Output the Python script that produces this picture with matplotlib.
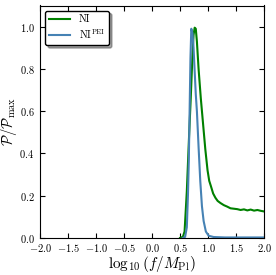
import numpy as np
import matplotlib
matplotlib.use("Agg")
import matplotlib.pyplot as plt

plt.rcParams['font.family'] = 'serif'
plt.rcParams['font.serif'] = ['cmr10', 'DejaVu Serif']
plt.rcParams['mathtext.fontset'] = 'cm'
plt.rcParams['axes.formatter.use_mathtext'] = True

# curves: x = log10(f/M_Pl), y = P/P_max
ni_x = [0.50, 0.55, 0.58, 0.62, 0.66, 0.69, 0.72, 0.74, 0.76, 0.78, 0.80, 0.83,
        0.87, 0.91, 0.95, 0.99, 1.02, 1.05, 1.09, 1.13, 1.17, 1.22, 1.28, 1.34, 1.40,
        1.46, 1.52, 1.58, 1.64, 1.70, 1.76, 1.82, 1.88, 1.94, 2.0]
ni_y = [0.0, 0.005, 0.03, 0.22, 0.48, 0.66, 0.86, 0.96, 0.995, 0.99, 0.93, 0.80,
        0.66, 0.54, 0.42, 0.32, 0.27, 0.245, 0.21, 0.19, 0.175, 0.165, 0.155, 0.148, 0.14,
        0.138, 0.136, 0.132, 0.135, 0.13, 0.134, 0.129, 0.132, 0.128, 0.125]

pei_x = [0.55, 0.59, 0.62, 0.64, 0.655, 0.67, 0.685, 0.70, 0.72, 0.74, 0.76,
         0.78, 0.80, 0.83, 0.86, 0.89, 0.92, 0.96, 1.01, 1.10, 1.30, 2.0]
pei_y = [0.0, 0.005, 0.05, 0.20, 0.36, 0.60, 0.85, 0.99, 0.97, 0.90, 0.79,
         0.68, 0.60, 0.43, 0.27, 0.15, 0.08, 0.03, 0.01, 0.004, 0.002, 0.002]

fig, ax = plt.subplots(figsize=(2.76, 2.75), dpi=100)
fig.subplots_adjust(left=0.145, right=0.957, top=0.98, bottom=0.135)

ax.plot(ni_x, ni_y, color='#008000', lw=1.5, label='NI')
ax.plot(pei_x, pei_y, color='#4682b4', lw=1.5, label=r'NI$^{\rm PEI}$')

ax.set_xlim(-2.0, 2.0)
ax.set_ylim(0.0, 1.1)
ax.set_xticks(np.arange(-2.0, 2.01, 0.5))
ax.set_yticks(np.arange(0.0, 1.01, 0.2))
ax.tick_params(direction='in', top=True, right=True, labelsize=7.5, length=3.5)
ax.tick_params(axis='x', pad=3)
ax.tick_params(axis='y', pad=4)
ax.set_xlabel(r'$\log_{10}(f/M_{\rm Pl})$', fontsize=11, labelpad=0)
ax.set_ylabel(r'$\mathcal{P}/\mathcal{P}_{\rm max}$', fontsize=10.5, labelpad=0)

ax.legend(loc='upper left', fontsize=7.5, fancybox=True, shadow=True,
          framealpha=1, edgecolor='black', borderpad=0.4, labelspacing=0.3,
          handlelength=2.0, handletextpad=0.8)

plt.savefig('out.png', dpi=100)
